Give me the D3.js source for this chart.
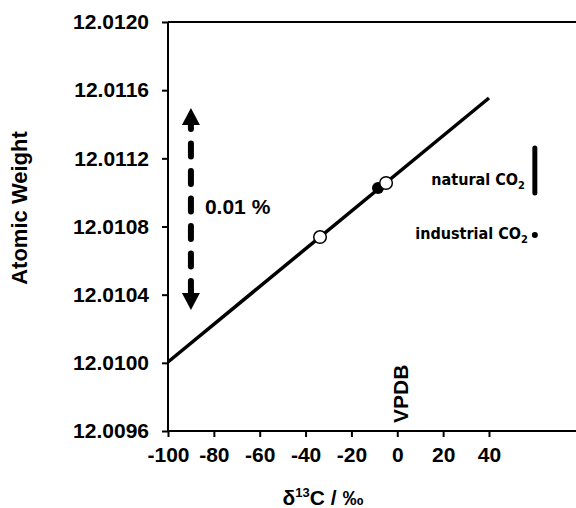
<!DOCTYPE html>
<html lang="en">
<head>
<meta charset="utf-8">
<script src="https://d3js.org/d3.v7.min.js"></script>
<style>
  body { margin: 0; background: #fff; }
  svg text { font-family: "Liberation Sans", Arial, sans-serif; font-weight: bold; fill: #000; }
  svg text.co2 { font-family: "DejaVu Sans Condensed", "DejaVu Sans", sans-serif; font-weight: bold; }
</style>
</head>
<body>
<div id="chart"></div>
<script>
  // chart data
  var xTicks = [-100, -80, -60, -40, -20, 0, 20, 40]
  var yTicks = [12.0096, 12.0100, 12.0104, 12.0108, 12.0112, 12.0116, 12.0120]
  var lineDelta = [-100, 40]
  var lineWeight = [12.010005, 12.011554]
  var openDelta = [-33.7, -4.9]
  var openWeight = [12.010738, 12.011055]
  var filledDelta = [-8.4]
  var filledWeight = [12.011026]
  var naturalDelta = 60
  var naturalWeight = [12.010997, 12.011261]
  var industrialDelta = 60
  var industrialWeight = 12.01075
  var arrowDelta = -90
  var arrowWeight = [12.01031, 12.011495]

  var W = 576, H = 508

  var svg = d3.select('#chart').append('svg')
      .attr('width', W).attr('height', H)

  var x = d3.scaleLinear().domain([-100, 80]).range([168, 580.7])
  var y = d3.scaleLinear().domain([12.0096, 12.0120]).range([431, 22])

  // top frame line
  svg.append('line')
      .attr('x1', x(-100)).attr('x2', W)
      .attr('y1', y(12.0120)).attr('y2', y(12.0120))
      .attr('stroke', '#000').attr('stroke-width', 2)

  var yAxis = svg.append('g')
      .attr('transform', 'translate(' + x(-100) + ',0)')
      .call(d3.axisLeft(y).tickValues(yTicks).tickFormat(d3.format('.4f')).tickSize(6).tickPadding(13))
  var xAxis = svg.append('g')
      .attr('transform', 'translate(0,' + y(12.0096) + ')')
      .call(d3.axisBottom(x).tickValues(xTicks).tickSize(6).tickPadding(10)
        .tickFormat(function(d) { return String(d) }))

  ;[yAxis, xAxis].forEach(function(a) {
    a.select('.domain').attr('stroke-width', 2)
    a.selectAll('.tick line').attr('stroke-width', 2)
    a.selectAll('.tick text').style('font-size', '21px')
  })
  // domain path without the outer tick caps
  yAxis.select('.domain').attr('d', 'M0,' + y(12.0096) + 'V' + y(12.0120))
  xAxis.select('.domain').attr('d', 'M' + x(-100) + ',0H' + W)

  // the line
  var pts = lineDelta.map(function(d, i) { return [x(d), y(lineWeight[i])] })
  svg.append('path')
      .attr('d', d3.line()(pts))
      .attr('stroke', '#000').attr('stroke-width', 3.5).attr('fill', 'none')

  svg.selectAll('circle.filled')
      .data(filledDelta).enter().append('circle')
      .attr('class', 'filled')
      .attr('cx', function(d) { return x(d) })
      .attr('cy', function(d, i) { return y(filledWeight[i]) })
      .attr('r', 6).attr('fill', '#000')

  svg.selectAll('circle.open')
      .data(openDelta).enter().append('circle')
      .attr('class', 'open')
      .attr('cx', function(d) { return x(d) })
      .attr('cy', function(d, i) { return y(openWeight[i]) })
      .attr('r', 6.3).attr('fill', '#fff').attr('stroke', '#000').attr('stroke-width', 1.5)

  // dashed double arrow
  var ax = x(arrowDelta)
  var yTop = y(arrowWeight[1]), yBot = y(arrowWeight[0])
  svg.append('line')
      .attr('x1', ax).attr('x2', ax)
      .attr('y1', yTop + 8).attr('y2', yBot - 17)
      .attr('stroke', '#000').attr('stroke-width', 6)
      .attr('stroke-dasharray', '13,14.5').attr('stroke-linecap', 'round')
  svg.append('path')
      .attr('d', 'M' + ax + ',' + yTop + 'L' + (ax + 9) + ',' + (yTop + 17) + 'L' + (ax - 9) + ',' + (yTop + 17) + 'Z')
      .attr('fill', '#000')
  svg.append('path')
      .attr('d', 'M' + ax + ',' + yBot + 'L' + (ax + 9) + ',' + (yBot - 17) + 'L' + (ax - 9) + ',' + (yBot - 17) + 'Z')
      .attr('fill', '#000')
  svg.append('text')
      .attr('x', ax + 14).attr('y', y(12.0109) + 5)
      .style('font-size', '21px')
      .text('0.01 %')

  // natural CO2 range bar and industrial CO2 point
  svg.append('line')
      .attr('x1', x(naturalDelta)).attr('x2', x(naturalDelta))
      .attr('y1', y(naturalWeight[0])).attr('y2', y(naturalWeight[1]))
      .attr('stroke', '#000').attr('stroke-width', 5).attr('stroke-linecap', 'round')
  svg.append('circle')
      .attr('cx', x(industrialDelta)).attr('cy', y(industrialWeight))
      .attr('r', 3).attr('fill', '#000')

  var nat = svg.append('text').attr('class', 'co2')
      .attr('x', x(naturalDelta) - 10).attr('y', 185)
      .attr('text-anchor', 'end').style('font-size', '16px')
  nat.append('tspan').text('natural CO')
  nat.append('tspan').attr('dy', 4).style('font-size', '11px').text('2')

  var ind = svg.append('text').attr('class', 'co2')
      .attr('x', x(industrialDelta) - 7).attr('y', 239)
      .attr('text-anchor', 'end').style('font-size', '16px')
  ind.append('tspan').text('industrial CO')
  ind.append('tspan').attr('dy', 4).style('font-size', '11px').text('2')

  // VPDB label
  svg.append('text')
      .attr('transform', 'translate(' + (x(0) + 11) + ',' + (y(12.0096) - 8) + ') rotate(-90)')
      .style('font-size', '21px')
      .text('VPDB')

  // axis titles
  svg.append('text')
      .attr('transform', 'translate(27,208) rotate(-90)')
      .attr('text-anchor', 'middle')
      .style('font-size', '22px')
      .text('Atomic Weight')

  var xt = svg.append('text')
      .attr('x', 323).attr('y', 505)
      .attr('text-anchor', 'middle')
      .style('font-size', '21px')
  xt.append('tspan').text('δ')
  xt.append('tspan').attr('dy', -8).style('font-size', '13px').text('13')
  xt.append('tspan').attr('dy', 8).text('C / ‰')
</script>
</body>
</html>
